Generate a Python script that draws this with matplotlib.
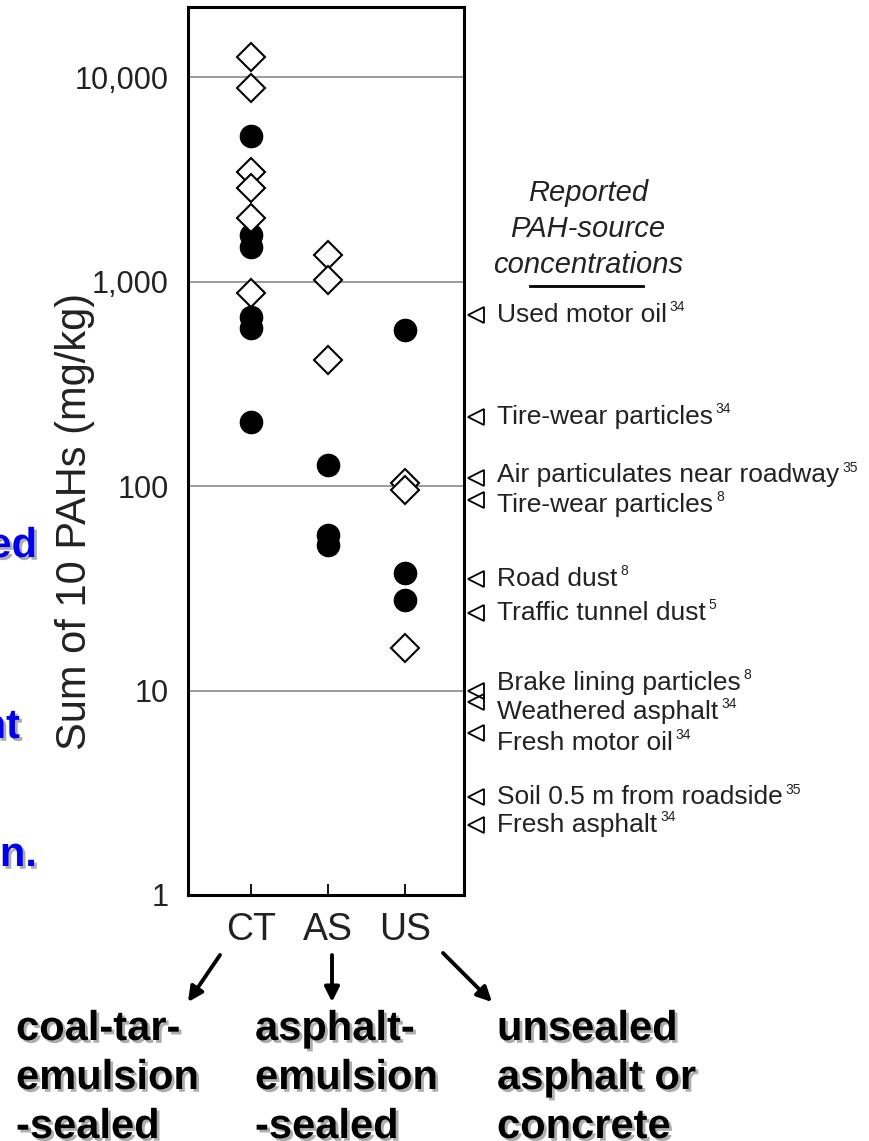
import matplotlib
matplotlib.use('Agg')
import matplotlib.pyplot as plt
import matplotlib.patheffects as pe
from matplotlib.lines import Line2D
from matplotlib.patches import FancyArrowPatch
from matplotlib.transforms import blended_transform_factory

plt.rcParams['font.family'] = ['Liberation Sans', 'DejaVu Sans']

# ---------------- data ----------------
categories = ['CT', 'AS', 'US']
filled_ct = [5140, 1690, 1475, 670, 593, 206]
filled_as = [127, 57.6, 51.5]
filled_us = [579, 37.5, 27.7]
open_ct = [12530, 8840, 3430, 2860, 2045, 879]
open_as = [1348, 1017, 413]
open_us = [103.5, 95.6, 16.1]

ytick_vals = [1, 10, 100, 1000, 10000]
ytick_labels = ['1', '10', '100', '1,000', '10,000']

source_names = ['Used motor oil', 'Tire-wear particles', 'Air particulates near roadway',
                'Tire-wear particles', 'Road dust', 'Traffic tunnel dust',
                'Brake lining particles', 'Weathered asphalt', 'Fresh motor oil',
                'Soil 0.5 m from roadside', 'Fresh asphalt']
source_refs = ['34', '34', '35', '8', '8', '5', '8', '34', '34', '35', '34']
source_vals = [686, 217, 109, 85.5, 35, 23.9, 10, 8.8, 6.2, 3.0, 2.2]

header_lines = ['Reported', 'PAH-source', 'concentrations']
ylabel_text = 'Sum of 10 PAHs (mg/kg)'
category_desc = ['coal-tar-\nemulsion\n-sealed', 'asphalt-\nemulsion\n-sealed',
                 'unsealed\nasphalt or\nconcrete']
side_fragments = ['ed', 'nt', 'n.']

# ---------------- layout ----------------
W, H, DPI = 869, 1141, 100
fig = plt.figure(figsize=(W / DPI, H / DPI), dpi=DPI)


def fx(px):
    return px / W


def fy(py):
    return 1 - py / H


ax = fig.add_axes([fx(188), fy(895), fx(464) - fx(188), fy(7) - fy(895)])
ax.set_yscale('log')
ax.set_ylim(1, 22000)
ax.set_xlim(0.187, 3.765)

xpos = [1, 2, 3]
filled = [filled_ct, filled_as, filled_us]
opened = [open_ct, open_as, open_us]

for x, vals in zip(xpos, filled):
    ax.plot([x] * len(vals), vals, ls='none', marker='o', ms=16,
            color='black', zorder=3)
for x, vals in zip(xpos, opened):
    ax.plot([x] * len(vals), vals, ls='none', marker='D', ms=14.5,
            mfc='white', mec='black', mew=1.5, zorder=4)

for v in ytick_vals[1:]:
    ax.axhline(v, color='#8a8a8a', lw=1.2, zorder=1)

ax.set_yticks(ytick_vals)
ax.set_yticklabels(ytick_labels)
ax.minorticks_off()
ax.tick_params(axis='y', length=0, pad=14, labelsize=22, labelcolor='#222222')
ax.set_xticks(xpos)
ax.set_xticklabels(categories)
ax.tick_params(axis='x', direction='in', length=8, width=1.3, pad=12,
               labelsize=27, labelcolor='#222222', top=False)
for s in ax.spines.values():
    s.set_linewidth(2.2)

fig.text(fx(75), fy(521), ylabel_text, rotation=90, ha='center', va='center',
         fontsize=30, color='#222222')

# reported source concentrations
blend = blended_transform_factory(ax.transAxes, ax.transData)
label_dy = [0, 0, 3, -5, 0, 0, 8, -10, -10, 0, 0]
for name, ref, val, dy in zip(source_names, source_refs, source_vals, label_dy):
    ax.plot([1.043], [val], transform=blend, marker='<', ms=12, mfc='none',
            mec='black', mew=1.3, clip_on=False, ls='none')
    t = ax.annotate(name, xy=(1.12, val), xycoords=blend, xytext=(0, dy),
                    textcoords='offset pixels', ha='left', va='center',
                    fontsize=19, color='#222222', annotation_clip=False)
    ax.annotate(ref, xy=(1, 1), xycoords=t, xytext=(2, 2),
                textcoords='offset points', ha='left', va='top',
                fontsize=10, color='#222222')

for line, py in zip(header_lines, [193, 229, 265]):
    fig.text(fx(588), fy(py), line, style='italic', ha='center', va='center',
             fontsize=21, color='#222222')
fig.add_artist(Line2D([fx(530), fx(643)], [fy(286), fy(286)], color='black',
                      lw=2, transform=fig.transFigure))

# arrows
arrows = [((220, 955), (188, 1002)), ((332, 955), (332, 1002)),
          ((443, 953), (492, 1002))]
for (x0, y0), (x1, y1) in arrows:
    fig.add_artist(FancyArrowPatch((fx(x0), fy(y0)), (fx(x1), fy(y1)),
                                   transform=fig.transFigure, arrowstyle='-|>',
                                   mutation_scale=22, lw=2.8, color='black',
                                   shrinkA=0, shrinkB=0))

shadow = [pe.SimplePatchShadow(offset=(2, -2), shadow_rgbFace='#777777', alpha=0.6),
          pe.Normal()]
for desc, px in zip(category_desc, [16, 255, 497]):
    for i, line in enumerate(desc.split('\n')):
        fig.text(fx(px), fy(1040 + 49 * i), line, ha='left', va='baseline',
                 fontsize=30, fontweight='bold', color='black',
                 path_effects=shadow)

for frag, (px, py) in zip(side_fragments, [(37, 557), (20, 738), (37, 866)]):
    fig.text(fx(px), fy(py), frag, ha='right', va='baseline', fontsize=30,
             fontweight='bold', color='#0000ee', path_effects=shadow)

fig.savefig('out.png', dpi=DPI)
